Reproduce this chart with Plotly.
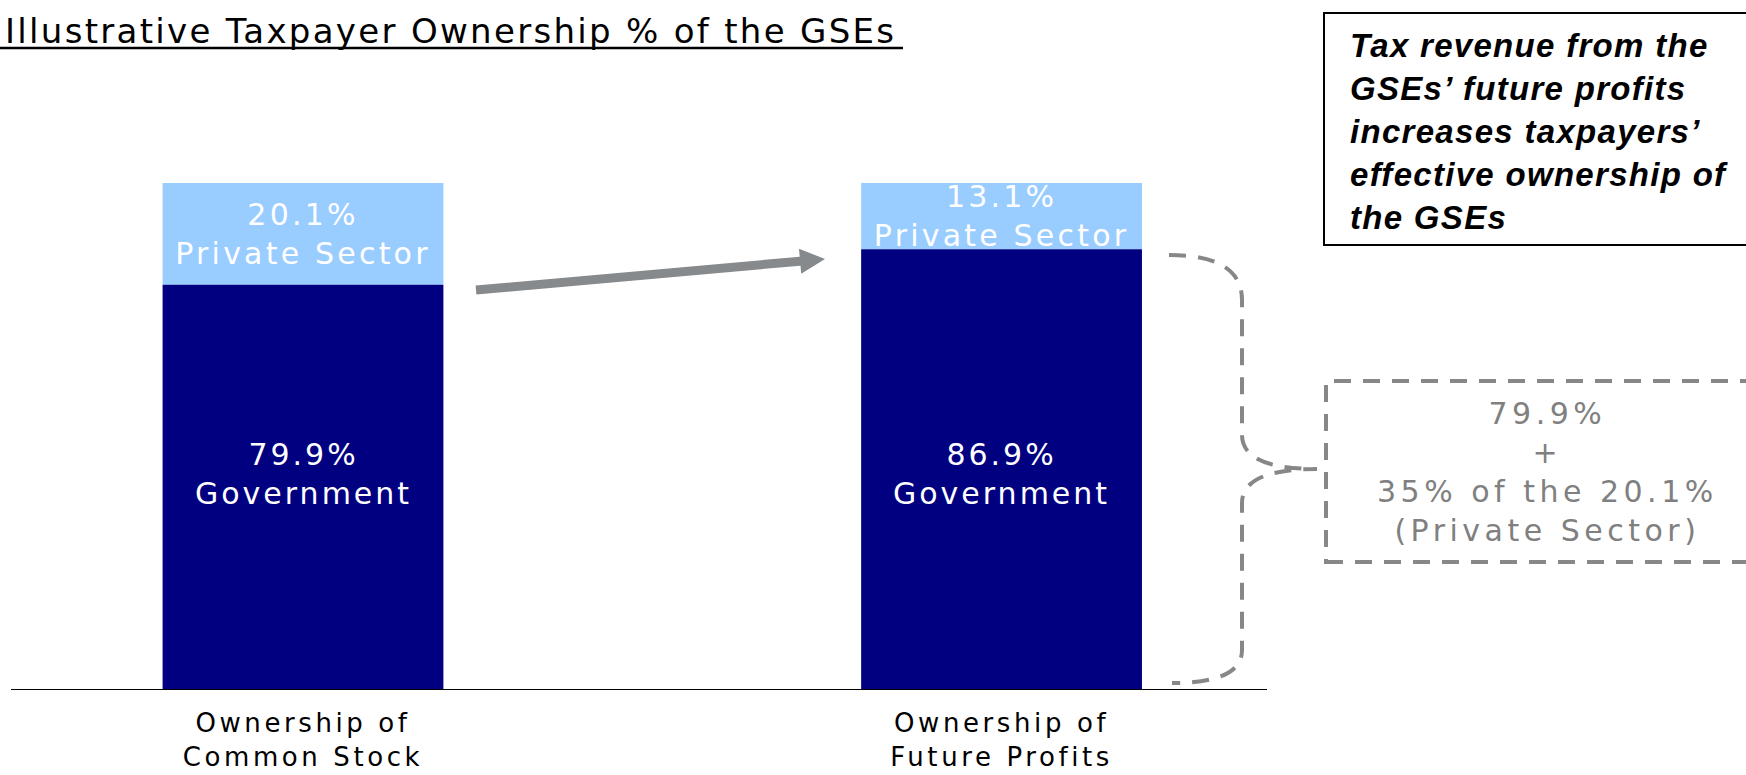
import math
import plotly.graph_objects as go

# ---------------- data ----------------
categories = ["Ownership of", "Ownership of"]
categories_2 = ["Common Stock", "Future Profits"]
government = [79.9, 86.9]
private_sector = [20.1, 13.1]
gov_label = "Government"
priv_label = "Private Sector"
callout_lines = ["79.9%", "+", "35% of the 20.1%", "(Private Sector)"]
note_lines = ["Tax revenue from the", "GSEs\u2019 future profits", "increases taxpayers\u2019",
              "effective ownership of", "the GSEs"]
title_text = "Illustrative Taxpayer Ownership % of the GSEs"

# ---------------- layout helpers ----------------
W, H = 1746, 775
L, R, T, B = 11, 479, 183, 86
PW, PH = W - L - R, H - T - B
FONT = "DejaVu Sans"
GOV_LABEL_Y = 42.5  # vertical level (in % units) of the government labels


def px(x):  # pixel -> paper
    return (x - L) / PW


def py(y):
    return (H - B - y) / PH


def spaced(lines, ls):
    return "<br>".join(f"<span style='letter-spacing:{ls}px'>{t}</span>" for t in lines)


xs = list(range(len(categories)))
ticktext = [spaced([a, b], 3.6) for a, b in zip(categories, categories_2)]

fig = go.Figure()
fig.add_trace(go.Bar(
    x=xs, y=private_sector, base=government, width=0.402,
    marker=dict(color="#99CCFF", line=dict(width=0)),
    text=[spaced([f"{v:.1f}%", priv_label], 3.2) for v in private_sector],
    textposition="inside", insidetextanchor="middle", constraintext="none", textangle=0,
    textfont=dict(color="white", size=30, family=FONT),
    hoverinfo="skip", showlegend=False,
))
fig.add_trace(go.Bar(
    x=xs, y=government, base=[0] * len(government), width=0.402,
    marker=dict(color="#000080", line=dict(width=0)),
    textposition="none",
    hoverinfo="skip", showlegend=False,
))

GRAY = "#878787"
shapes = []
# title underline
shapes.append(dict(type="line", xref="paper", yref="paper", x0=px(0), x1=px(903), y0=py(48), y1=py(48),
                   line=dict(color="black", width=2.5)))
# note box
shapes.append(dict(type="rect", xref="paper", yref="paper", x0=px(1324), x1=px(1785), y0=py(245), y1=py(13),
                   line=dict(color="black", width=2), fillcolor="rgba(0,0,0,0)"))
# dashed callout box
shapes.append(dict(type="rect", xref="paper", yref="paper", x0=px(1326), x1=px(1770), y0=py(562), y1=py(381),
                   line=dict(color=GRAY, width=4, dash="17px,12px"), fillcolor="rgba(0,0,0,0)"))


def P(x, y):
    return f"{px(x):.5f},{py(y):.5f}"


brace = (f"M{P(1169,255)} Q{P(1242,255)} {P(1242,300)} L{P(1242,435)} "
         f"Q{P(1242,469)} {P(1317,469)} Q{P(1242,469)} {P(1242,503)} "
         f"L{P(1242,650)} Q{P(1242,683)} {P(1172,683)}")
shapes.append(dict(type="path", xref="paper", yref="paper", path=brace,
                   line=dict(color=GRAY, width=4, dash="17px,12px")))

# arrow (polygon)
tx, ty = 476, 290
hx, hy = 825, 259
dx, dy = hx - tx, hy - ty
ln = math.hypot(dx, dy)
ux, uy = dx / ln, dy / ln
nx, ny = -uy, ux
hl, hw, sw = 25, 12.5, 4.5
bx, by = hx - hl * ux, hy - hl * uy
pts = [(tx + sw * nx, ty + sw * ny), (bx + sw * nx, by + sw * ny), (bx + hw * nx, by + hw * ny), (hx, hy),
       (bx - hw * nx, by - hw * ny), (bx - sw * nx, by - sw * ny), (tx - sw * nx, ty - sw * ny)]
arrow = "M" + " L".join(P(a, b) for a, b in pts) + " Z"
shapes.append(dict(type="path", xref="paper", yref="paper", path=arrow,
                   fillcolor="#878A8C", line=dict(width=0)))

annotations = [
    dict(xref="paper", yref="paper", x=px(3), y=py(31), xanchor="left", yanchor="middle",
         text=spaced([title_text], 2.3), showarrow=False,
         font=dict(family=FONT, size=34, color="black")),
    dict(xref="paper", yref="paper", x=px(1348), y=py(132), xanchor="left", yanchor="middle",
         align="left", showarrow=False,
         text="<br>".join(f"<span style='letter-spacing:1.3px'><b><i>{t}</i></b></span>" for t in note_lines),
         font=dict(family="Liberation Sans, Arial", size=33, color="black")),
    dict(xref="paper", yref="paper", x=px(1547), y=py(472), xanchor="center", yanchor="middle",
         align="center", showarrow=False, text=spaced(callout_lines, 4.5),
         font=dict(family=FONT, size=30, color="#808080")),
]
for xv, gv in zip(xs, government):
    annotations.append(dict(xref="x", yref="y", x=xv, y=GOV_LABEL_Y, xanchor="center", yanchor="middle",
                            align="center", showarrow=False,
                            text=spaced([f"{gv:.1f}%", gov_label], 3.0),
                            font=dict(family=FONT, size=30, color="white")))

fig.update_layout(
    width=W, height=H,
    margin=dict(l=L, r=R, t=T, b=B, autoexpand=False),
    paper_bgcolor="white", plot_bgcolor="white",
    barmode="overlay",
    showlegend=False,
    xaxis=dict(range=[-0.418, 1.380], tickvals=xs, ticktext=ticktext, ticks="",
               showline=True, linecolor="black", linewidth=1, showgrid=False, zeroline=False,
               tickfont=dict(family=FONT, size=26, color="black"), automargin=False,
               ticklabelstandoff=11, fixedrange=True),
    yaxis=dict(range=[0, 100], visible=False, showgrid=False, zeroline=False, fixedrange=True),
    shapes=shapes,
    annotations=annotations,
)

fig.write_html("out.html", config={"displayModeBar": False},
               post_script="document.body.style.margin='0';document.body.style.overflow='hidden';")
